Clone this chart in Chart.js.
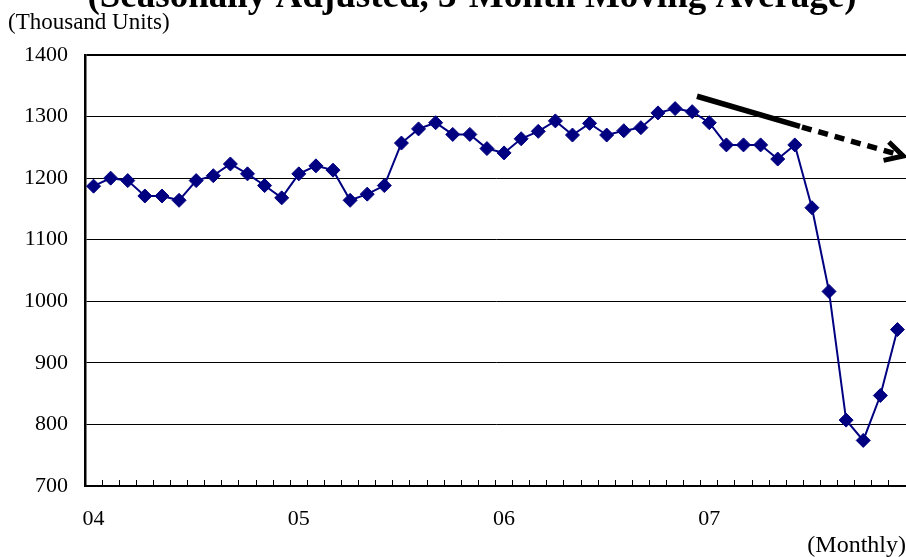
<!DOCTYPE html>
<html>
<head>
<meta charset="utf-8">
<script src="https://cdn.jsdelivr.net/npm/chart.js@4/dist/chart.umd.min.js"></script>
<style>
  html, body { margin: 0; padding: 0; background: #fff; }
  #wrap { position: relative; width: 906px; height: 557px; overflow: hidden; }
  canvas { display: block; }
</style>
</head>
<body>
<div id="wrap"><canvas id="c" width="906" height="557"></canvas></div>
<script>
// Years shown on the category axis (one label per January)
const years = ['04', '05', '06', '07'];
const monthNames = ['01','02','03','04','05','06','07','08','09','10','11','12'];

// Starts, seasonally adjusted 3-month moving average, thousand units
const starts2004 = [1187, 1200, 1196, 1171, 1171, 1164, 1196, 1204, 1223, 1207, 1188, 1168];
const starts2005 = [1207, 1220, 1213, 1164, 1174, 1188, 1257, 1280, 1290, 1271, 1271, 1248];
const starts2006 = [1241, 1264, 1276, 1293, 1270, 1289, 1270, 1277, 1282, 1306, 1313, 1308];
const starts2007 = [1290, 1254, 1254, 1254, 1231, 1254, 1152, 1016, 807, 774, 847, 954];

// Value axis ticks
const yTicks = [700, 800, 900, 1000, 1100, 1200, 1300, 1400];

// Trend arrow in data units: [category index, value]
const trendFrom = [35.28, 1333];
const trendBend = [41.3, 1284];
const trendTo = [47.33, 1236];

const categories = [];
years.forEach(y => monthNames.forEach(m => categories.push(y + '/' + m)));
const values = [].concat(starts2004, starts2005, starts2006, starts2007);

const SERIF = "'Liberation Serif', 'Times New Roman', serif";

const overlay = {
  id: 'overlay',
  afterDatasetsDraw(chart) {
    const { ctx, scales: { x, y } } = chart;
    const p = v => [x.getPixelForValue(v[0]), y.getPixelForValue(v[1])];
    const a = p(trendFrom), b = p(trendBend), c = p(trendTo);
    ctx.save();
    ctx.strokeStyle = '#000';
    ctx.lineWidth = 5.5;
    ctx.lineCap = 'butt';
    ctx.beginPath();
    ctx.moveTo(a[0], a[1]);
    ctx.lineTo(b[0], b[1]);
    ctx.stroke();
    ctx.setLineDash([10, 7]);
    ctx.beginPath();
    ctx.moveTo(b[0] + 2, b[1] + 0.6);
    ctx.lineTo(c[0] - 4, c[1] - 1.2);
    ctx.stroke();
    ctx.setLineDash([]);
    // open arrow head
    const ang = Math.atan2(c[1] - b[1], c[0] - b[0]);
    const len = 20;
    ctx.lineWidth = 5;
    ctx.lineJoin = 'miter';
    ctx.beginPath();
    ctx.moveTo(c[0] - len * Math.cos(ang - 0.5), c[1] - len * Math.sin(ang - 0.5));
    ctx.lineTo(c[0], c[1]);
    ctx.lineTo(c[0] - len * Math.cos(ang + 0.5), c[1] - len * Math.sin(ang + 0.5));
    ctx.stroke();
    ctx.restore();
  },
  afterDraw(chart) {
    const { ctx } = chart;
    ctx.save();
    ctx.fillStyle = '#000';
    ctx.textBaseline = 'alphabetic';
    ctx.font = 'bold 37px ' + SERIF;
    ctx.textAlign = 'center';
    ctx.fillText('(Seasonally Adjusted, 3-Month Moving Average)', 472, 7);
    ctx.font = '23px ' + SERIF;
    ctx.textAlign = 'left';
    ctx.fillText('(Thousand Units)', 8, 29);
    ctx.font = '24px ' + SERIF;
    ctx.textAlign = 'right';
    ctx.fillText('(Monthly)', 906, 552);
    ctx.restore();
  }
};

new Chart(document.getElementById('c'), {
  type: 'line',
  data: {
    labels: categories,
    datasets: [{
      data: values,
      borderColor: '#000080',
      backgroundColor: '#000080',
      borderWidth: 2,
      pointStyle: 'rectRot',
      pointRadius: 7,
      pointBorderWidth: 1,
      pointBorderColor: '#000080',
      pointBackgroundColor: '#000080',
      tension: 0
    }]
  },
  options: {
    responsive: false,
    animation: false,
    layout: { autoPadding: false, padding: { top: 55, right: 0, left: 0, bottom: 0 } },
    plugins: {
      legend: { display: false },
      tooltip: { enabled: false },
      title: { display: false }
    },
    scales: {
      x: {
        type: 'category',
        offset: true,
        grid: {
          display: true,
          offset: true,
          drawOnChartArea: false,
          drawTicks: true,
          tickLength: -6,
          color: '#000',
          lineWidth: 1
        },
        border: { display: true, color: '#000', width: 2 },
        ticks: {
          autoSkip: false,
          maxRotation: 0,
          minRotation: 0,
          padding: 0,
          color: '#000',
          // tall line box places the year labels well below the axis
          font: { family: SERIF, size: 22, lineHeight: '78px' },
          callback: (val, idx) => (idx % 12 === 0 ? years[idx / 12] : '')
        },
        afterFit(scale) { scale.height = 71; }
      },
      y: {
        min: yTicks[0],
        max: yTicks[yTicks.length - 1],
        afterBuildTicks(scale) { scale.ticks = yTicks.map(v => ({ value: v })); },
        grid: {
          color: '#000',
          lineWidth: ctx => (ctx.tick && ctx.tick.value === 1400 ? 2 : 1),
          drawTicks: false
        },
        border: { display: true, color: '#000', width: 2.5 },
        ticks: {
          padding: 17,
          color: '#000',
          font: { family: SERIF, size: 22 },
          callback: v => String(v)
        },
        afterFit(scale) { scale.width = 85; }
      }
    }
  },
  plugins: [overlay]
});
</script>
</body>
</html>
